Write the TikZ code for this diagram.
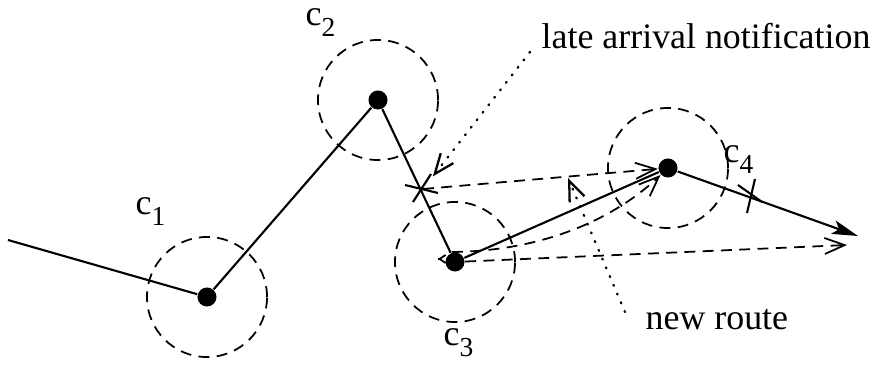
\documentclass[tikz,border=0pt]{standalone}
\usepackage{fontspec}
\setmainfont{Liberation Serif}
\usetikzlibrary{arrows.meta}
\newcommand\lblsub[2]{#1\raisebox{-0.3em}{\fontsize{7.8}{8}\selectfont #2}}
\begin{document}
\begin{tikzpicture}[x=0.01cm,y=-0.01cm,
  solidline/.style={line width=0.6pt},
  dashline/.style={line width=0.5pt, dash pattern=on 3.1pt off 2.1pt},
  dotline/.style={line width=0.65pt, dash pattern=on 0.3pt off 2.4pt, line cap=round},
  dot/.style={circle, fill=black, inner sep=0pt, minimum size=0.19cm},
  lab/.style={font=\fontsize{10.2}{12}\selectfont, inner sep=0pt, anchor=base west},
  barb/.style={-{Straight Barb[length=0.2cm,width=0.16cm]}},
  bigtip/.style={-{Stealth[length=0.26cm,width=0.14cm,inset=0.06cm]}}
]
\useasboundingbox (0,0) rectangle (875,367);

% positions
\coordinate (s) at (8,240);
\node[dot] (n1) at (207,297) {};
\node[dot] (n2) at (378,100) {};
\node[dot] (n3) at (455,262) {};
\node[dot] (n4) at (668,168) {};
\coordinate (e) at (858,236);
\coordinate (X) at (423,189);
\coordinate (T) at (751,196);
\coordinate (c3s) at (452,252);
\coordinate (lowend) at (847,245);
\coordinate (lt) at (438,259);
\coordinate (nrtip) at (568,178);

% circles
\foreach \n in {n1,n2,n3,n4}
  \draw[dashline] (\n) circle[radius=0.6cm];

% main route
\draw[solidline] (s) -- (n1) -- (n2) -- (n3) -- (n4);
\draw[solidline,bigtip] (n4) -- (e);

% crosses
\draw[solidline] (X) ++(-18,-4) -- ++(33,8);
\draw[solidline] (X) ++(-10,13) -- ++(18,-28);
\draw[solidline] (T) ++(4,-17) -- ++(-8,34);
\draw[solidline] (T) ++(-13,-11) -- ++(24,17);

% dashed routes
\draw[dashline,barb] (X) -- (n4);
\draw[dashline,barb] (c3s) .. controls (545,251) and (615,218) .. (n4);
\draw[dashline,barb] (n3) -- (lowend);
\draw[line width=0.5pt,-{Straight Barb[length=0.06cm,width=0.08cm]}] ([xshift=0.1]lt) -- (lt);

% labels
\node[lab] (l1) at (135,215) {\lblsub{c}{1}};
\node[lab] (l2) at (305,26) {\lblsub{c}{2}};
\node[lab] (l3) at (443,346) {\lblsub{c}{3}};
\node[lab] (l4) at (723,163) {\lblsub{c}{4}};
\node[lab] (late) at (541,49) {late arrival notification};
\node[lab] (nr) at (645,330) {new route};

% pointers
\draw[dotline,barb,shorten >=0.16cm] (530,52) -- (X);
\draw[dotline,barb] (625,312) -- (nrtip);
\end{tikzpicture}
\end{document}
